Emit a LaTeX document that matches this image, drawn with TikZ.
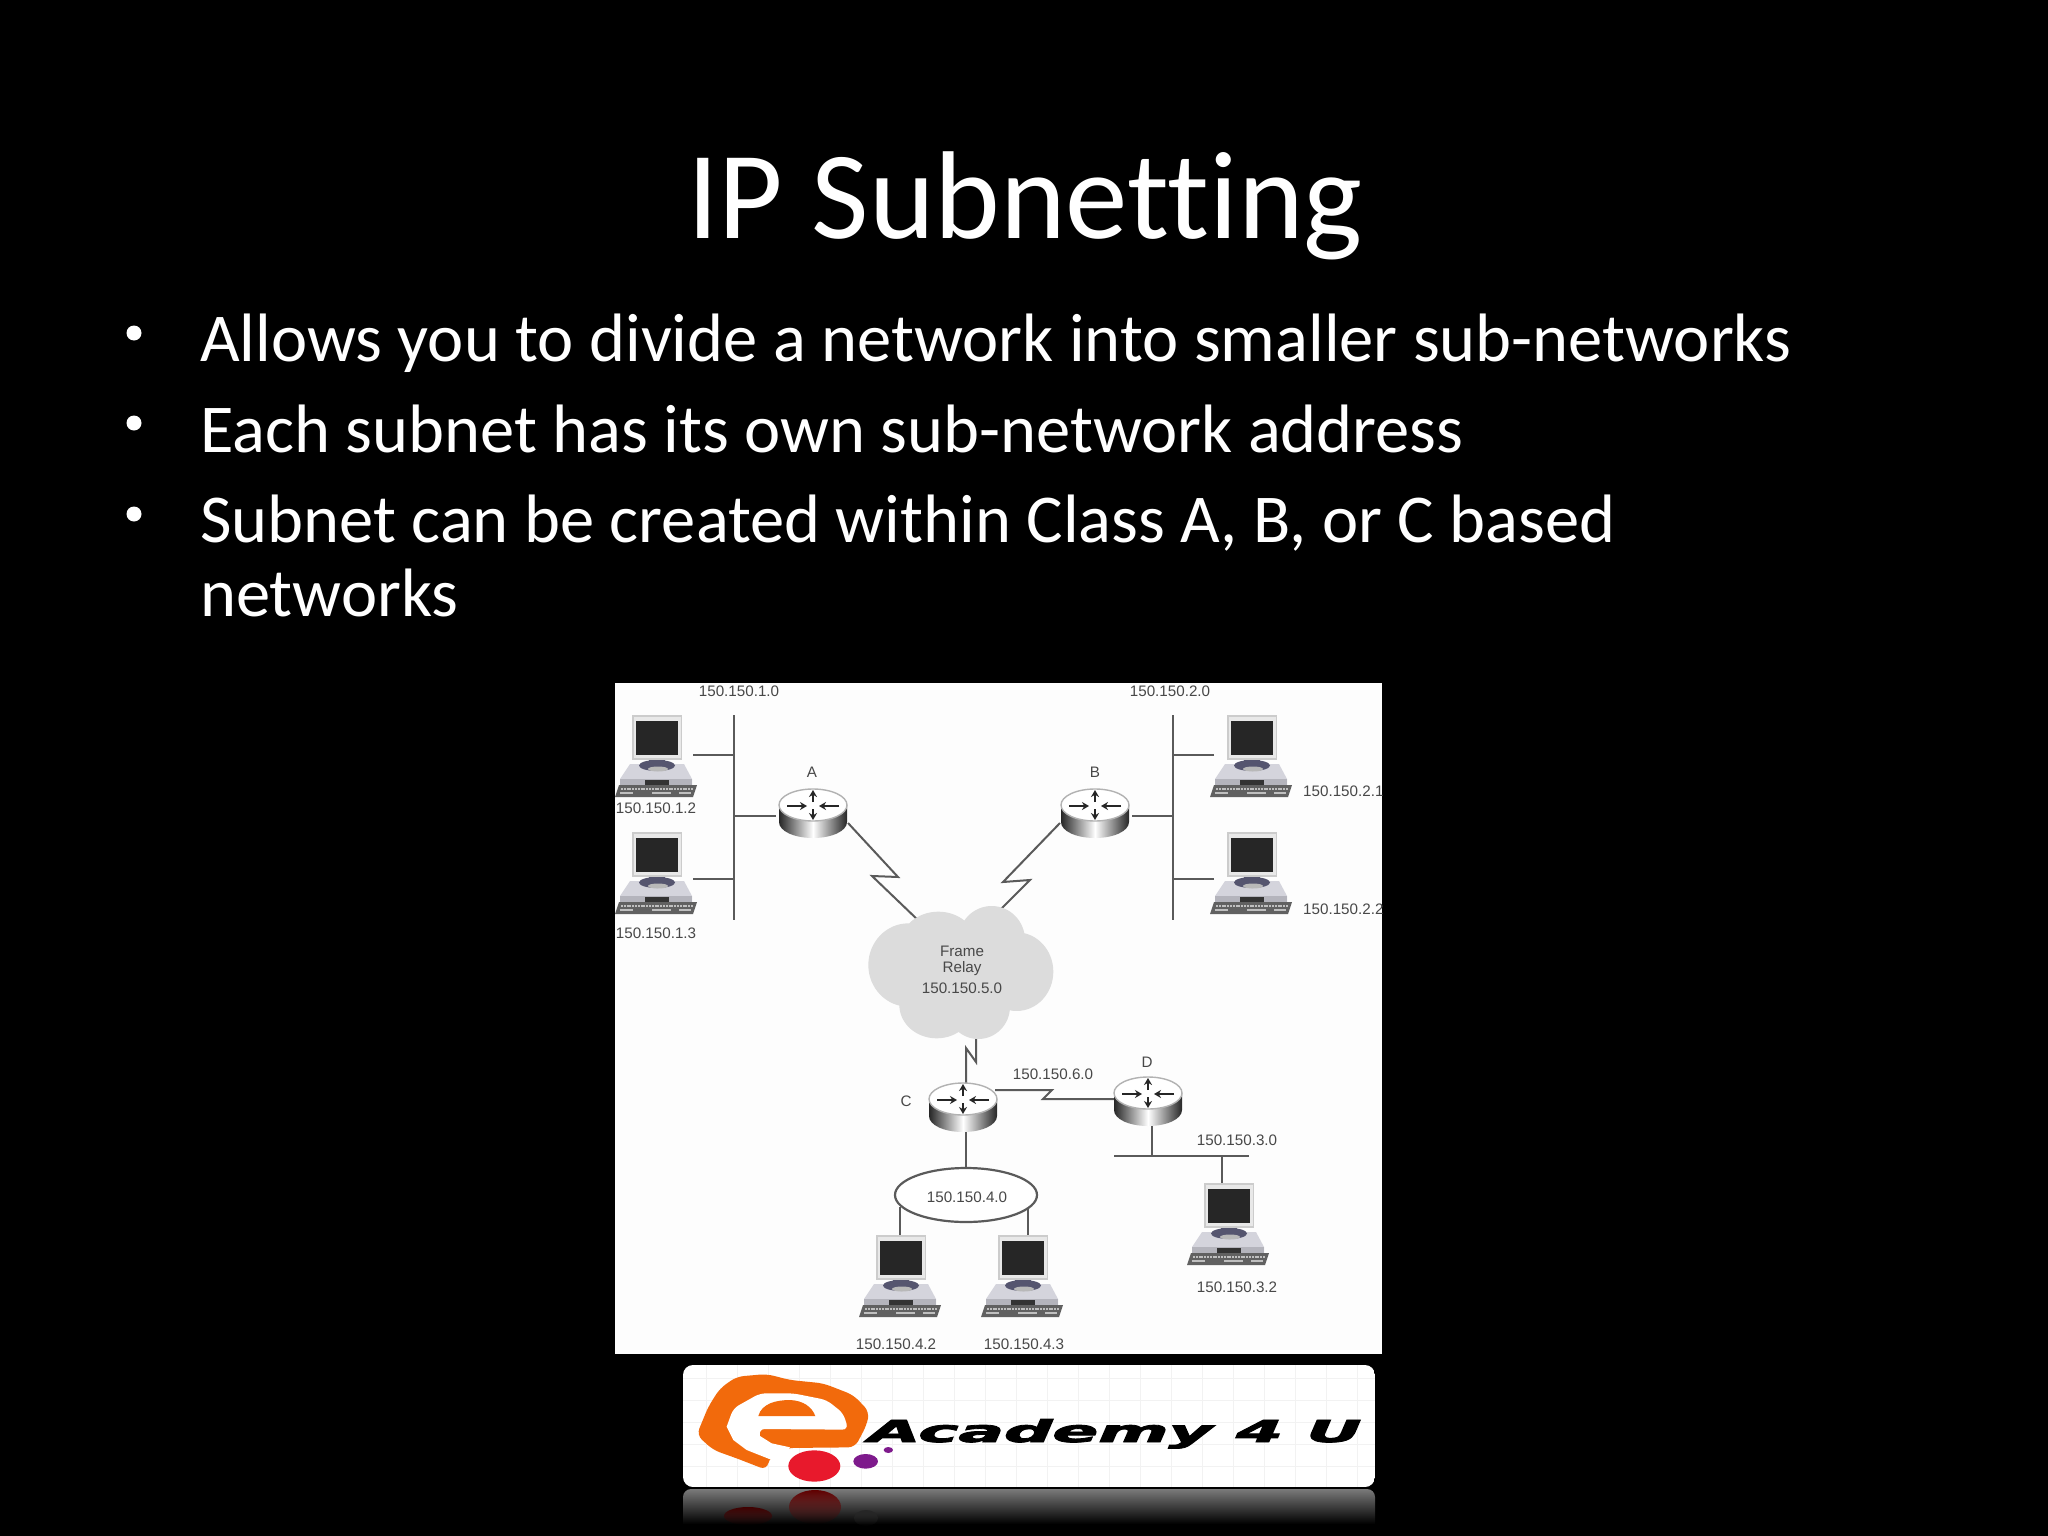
\documentclass[tikz,border=0pt]{standalone}
\usepackage{fontspec}
\usepackage{graphicx}
\usetikzlibrary{arrows.meta,shapes.geometric,fadings}
\setmainfont[Ligatures=NoCommon]{Carlito}
\newfontfamily\labfont{Liberation Sans}
\newfontfamily\logofont[FakeBold=2.6]{DejaVu Sans}
\definecolor{wire}{HTML}{5A5A5A}
\definecolor{labgray}{HTML}{484848}
\definecolor{cloudgray}{HTML}{DCDCDC}
\definecolor{eorange}{HTML}{F26A0C}
\definecolor{ered}{HTML}{E8192C}
\definecolor{epurple}{HTML}{7E1A8C}
\definecolor{deskblue}{HTML}{55556F}
\definecolor{desktop}{HTML}{D4D4DC}
\definecolor{deskfront}{HTML}{B4B4BC}
\tikzset{
  wireline/.style={draw=wire,line width=2.4pt},
  serial/.style={draw=wire,line width=2pt,line join=miter},
  lab/.style={font=\labfont\fontsize{15.2}{18}\selectfont,text=labgray,inner sep=0pt,anchor=center},
  bodytext/.style={font=\fontsize{68.5}{74}\selectfont,text=white,inner sep=0pt,anchor=base west,align=left},
  bul/.style={circle,fill=white,inner sep=0pt,minimum size=15pt},
  rarrow/.style={line width=2.6pt,draw=black!85,-{Stealth[length=7pt,width=8pt]}},
  pc/.pic={
    \fill[fill=black!20] (-25,-2) rectangle (25,43);
    \fill[fill=black!9] (-23.5,0) rectangle (23.5,41);
    \fill[fill=black!85] (-21,4) rectangle (21,37.5);
    \fill[fill=desktop] (-27,47) -- (27,47) -- (35,62) -- (35,68) -- (-37,68) -- (-37,62) -- cycle;
    \fill[fill=deskfront] (-37,62) -- (35,62) -- (35,68) -- (-37,68) -- cycle;
    \fill[fill=deskblue] (0,48.5) ellipse [x radius=18,y radius=5.5];
    \fill[fill=black!28] (1,52) ellipse [x radius=10,y radius=2.5];
    \fill[fill=deskblue] (-8,43) rectangle (8,47);
    \fill[fill=black!80] (-12,63) rectangle (12,68);
    \fill[fill=black!62] (-38,68) -- (40,68) -- (36,80) -- (-42,80) -- cycle;
    \draw[black!25,line width=2.4pt,dash pattern=on 2pt off .8pt] (-36,72) -- (36,72);
    \draw[black!25,line width=1.5pt] (-37.5,76) -- (-24,76) (-5,76) -- (14,76) (22,76) -- (34,76);
  },
  router/.pic={
    \shade[left color=black!85,right color=black!85,middle color=white]
      (-34,0) -- (-34,17)
      .. controls (-34,26) and (-19,33) .. (0,33)
      .. controls (19,33) and (34,26) .. (34,17)
      -- (34,0) -- cycle;
    \draw[fill=white,draw=black!30,line width=1.4pt] (0,0) ellipse [x radius=34,y radius=16];
    \draw[rarrow] (-26,1) -- (-6,1);
    \draw[rarrow] (26,1) -- (6,1);
    \draw[rarrow] (0,-3) -- (0,-15);
    \draw[rarrow] (0,4) -- (0,15);
  }
}
\begin{document}
\begin{tikzpicture}[x=1pt,y=-1pt]
\useasboundingbox (0,0) rectangle (2048,1536);
\fill[black] (0,0) rectangle (2048,1536);
% slide text
\node[font=\fontsize{125}{130}\selectfont,text=white,inner sep=0pt,anchor=base] (title) at (1025,238) {IP Subnetting};
\node[bul] (b1) at (134,333) {};
\node[bul] (b2) at (134,423) {};
\node[bul] (b3) at (134,514) {};
\node[bodytext] (t1) at (200,361) {Allows you to divide a network into smaller sub-networks};
\node[bodytext] (t2) at (200,452) {Each subnet has its own sub-network address};
\node[bodytext] (t3) at (200,542) {Subnet can be created within Class A, B, or C based};
\node[bodytext] (t4) at (200,616) {networks};
% diagram picture
\fill[fill={rgb,255:red,253;green,253;blue,253}] (615,683) rectangle (1382,1354);
\begin{scope}
\clip (615,683) rectangle (1382,1354);
% junctions
\coordinate (busAtop) at (734,715);
\coordinate (busAbot) at (734,920);
\coordinate (busA1) at (734,755);
\coordinate (busA2) at (734,879);
\coordinate (busAr) at (734,816);
\coordinate (pc1port) at (693,755);
\coordinate (pc2port) at (693,879);
\coordinate (rAwest) at (776,816);
\coordinate (busBtop) at (1173,715);
\coordinate (busBbot) at (1173,920);
\coordinate (busB1) at (1173,755);
\coordinate (busB2) at (1173,879);
\coordinate (busBr) at (1173,816);
\coordinate (pc3port) at (1214,755);
\coordinate (pc4port) at (1214,879);
\coordinate (rBeast) at (1132,816);
\coordinate (rAserial) at (848,823);
\coordinate (rBserial) at (1060,823);
\coordinate (rCnorth) at (966,1085);
\coordinate (rCeast) at (995,1090);
\coordinate (rCsouth) at (966,1130);
\coordinate (rDwest) at (1114,1099);
\coordinate (rDsouth) at (1152,1125);
\coordinate (cloudA) at (920,922);
\coordinate (cloudB) at (1000,910);
\coordinate (cloudC) at (976,1036);
\coordinate (ringN) at (966,1168);
\coordinate (ringSW) at (900,1207);
\coordinate (ringSE) at (1028,1207);
\coordinate (pc5port) at (900,1237);
\coordinate (pc6port) at (1028,1237);
\coordinate (busDw) at (1114,1156);
\coordinate (busDe) at (1249,1156);
\coordinate (busDr) at (1152,1156);
\coordinate (busDp) at (1222,1156);
\coordinate (pc7port) at (1222,1185);
% connectors
\draw[wireline] (busAtop) -- (busAbot);
\draw[wireline] (pc1port) -- (busA1);
\draw[wireline] (pc2port) -- (busA2);
\draw[wireline] (busAr) -- (rAwest);
\draw[wireline] (busBtop) -- (busBbot);
\draw[wireline] (pc3port) -- (busB1);
\draw[wireline] (pc4port) -- (busB2);
\draw[wireline] (busBr) -- (rBeast);
\draw[serial] (rAserial) -- (898,877) -- (872,876) -- (cloudA);
\draw[serial] (rBserial) -- (1003,882) -- (1030,880) -- (cloudB);
\draw[serial] (rCnorth) -- (966,1048) -- (976,1062) -- (cloudC);
\draw[serial] (rCeast) -- (1052,1090) -- (1043,1099) -- (rDwest);
\draw[wireline] (rCsouth) -- (ringN);
\draw[wireline] (ringSW) -- (pc5port);
\draw[wireline] (ringSE) -- (pc6port);
\draw[wireline] (rDsouth) -- (busDr);
\draw[wireline] (busDw) -- (busDe);
\draw[wireline] (busDp) -- (pc7port);
% cloud
\begin{scope}[shift={(850,895)},x=0.3333pt,y=-0.3333pt]
\fill[cloudgray]
  (175,210) ellipse [x radius=120,y radius=125]
  (265,150) ellipse [x radius=115,y radius=100]
  (425,135) ellipse [x radius=100,y radius=102]
  (500,230) ellipse [x radius=110,y radius=118]
  (260,330) ellipse [x radius=112,y radius=100]
  (385,335) ellipse [x radius=95,y radius=97]
  (350,240) ellipse [x radius=160,y radius=120];
\end{scope}
% ring
\node[ellipse,draw=wire,line width=2.2pt,fill=white,minimum width=142pt,minimum height=54pt,inner sep=0pt] (ring) at (966,1195) {};
% routers
\pic (rA) at (813,805) {router};
\pic (rB) at (1095,805) {router};
\pic (rC) at (963,1099) {router};
\pic (rD) at (1148,1093) {router};
% pcs
\pic (pc1) at (657,717) {pc};
\pic (pc2) at (657,834) {pc};
\pic (pc3) at (1252,717) {pc};
\pic (pc4) at (1252,834) {pc};
\pic (pc5) at (901,1237) {pc};
\pic (pc6) at (1023,1237) {pc};
\pic (pc7) at (1229,1185) {pc};
% labels
\node[lab] (l10) at (739,691) {150.150.1.0};
\node[lab] (l12) at (656,808) {150.150.1.2};
\node[lab] (l13) at (656,933) {150.150.1.3};
\node[lab] (lA) at (812,772) {A};
\node[lab] (l20) at (1170,691) {150.150.2.0};
\node[lab] (lB) at (1095,772) {B};
\node[lab,anchor=west] (l21) at (1303,791) {150.150.2.1};
\node[lab,anchor=west] (l22) at (1303,909) {150.150.2.2};
\node[lab] (lf1) at (962,951) {Frame};
\node[lab] (lf2) at (962,969) {Relay};
\node[lab] (lf3) at (962,988) {150.150.5.0};
\node[lab] (l60) at (1053,1074) {150.150.6.0};
\node[lab] (lC) at (906,1101) {C};
\node[lab] (lD) at (1147,1062) {D};
\node[lab] (l30) at (1237,1140) {150.150.3.0};
\node[lab] (l40) at (967,1197) {150.150.4.0};
\node[lab] (l32) at (1237,1287) {150.150.3.2};
\node[lab] (l42) at (896,1344) {150.150.4.2};
\node[lab] (l43) at (1024,1344) {150.150.4.3};
\end{scope}
% logo reflection
\begin{scope}
\clip[rounded corners=8pt] (683,1489) rectangle (1375,1560);
\shade[top color=black!52,bottom color=black] (683,1489) rectangle (1375,1524);
\fill[red!38!black,path fading=south] (815,1507) ellipse [x radius=26,y radius=17];
\fill[red!25!black,path fading=south] (748,1516) ellipse [x radius=24,y radius=9];
\fill[black!85,path fading=south] (866,1518) ellipse [x radius=12,y radius=8];
\end{scope}
% logo
\begin{scope}
\clip[rounded corners=10pt] (683,1365) rectangle (1375,1487);
\fill[white] (683,1365) rectangle (1375,1487);
\foreach \gx in {0,1,...,22} \draw[black!5,line width=1pt] ({706+31*\gx},1365) -- ({706+31*\gx},1487);
\foreach \gy in {0,1,...,5} \draw[black!5,line width=1pt] (683,{1378+22*\gy}) -- (1375,{1378+22*\gy});
\end{scope}
\begin{scope}[shift={(680,1360)},x=0.3333pt,y=-0.3333pt]
\fill[eorange,rounded corners=7pt] (50,225) -- (85,140) -- (120,85) -- (170,50) -- (260,42) -- (330,60) -- (430,70) -- (520,105) -- (568,155) -- (560,195) -- (525,262) -- (320,264) -- (270,290) -- (260,330) -- (170,295) -- (100,270) -- cycle;
\fill[white,rounded corners=6pt] (140,200) -- (160,145) -- (240,100) -- (340,100) -- (440,120) -- (490,160) -- (505,209) -- (236,207) [sharp corners] -- (240,228) -- (275,250) -- (330,262) -- (300,300) -- (268,297) -- (200,270) -- (160,240) -- cycle;
\fill[eorange] (235,168) .. controls (245,130) and (290,120) .. (330,120) .. controls (370,122) and (395,140) .. (406,168) -- cycle;
\fill[ered] (403,318) ellipse [x radius=78,y radius=47];
\fill[epurple] (557,304) ellipse [x radius=37,y radius=22];
\fill[epurple] (625,270) ellipse [x radius=14,y radius=9];
\end{scope}
\node[inner sep=0pt,anchor=base west,text=black,font=\logofont\bfseries\itshape] (logotext) at (868,1442) {\resizebox{493pt}{23pt}{Academy 4 U}};
\end{tikzpicture}
\end{document}
